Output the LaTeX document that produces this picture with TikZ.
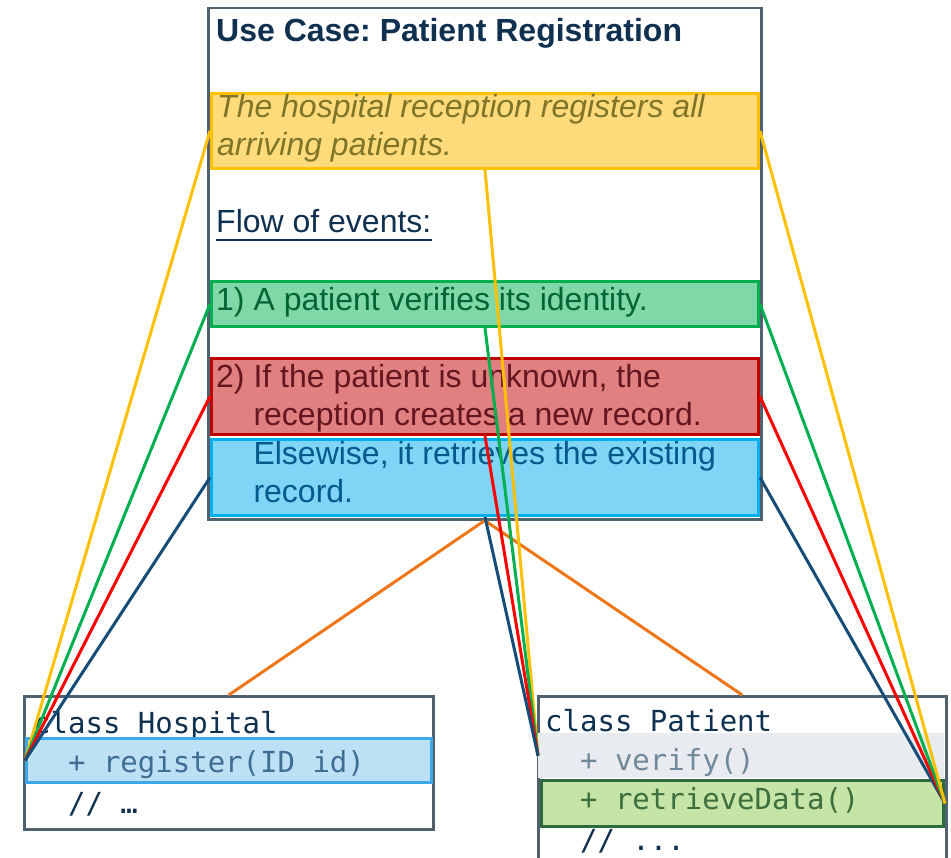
\documentclass[tikz,border=0pt]{standalone}
\usepackage{fontspec}
\setmainfont{Liberation Sans}
\setmonofont{DejaVu Sans Mono}
\frenchspacing

% palette
\definecolor{frame}{RGB}{80,98,112}
\definecolor{navy}{RGB}{16,48,80}
\definecolor{ylwfill}{RGB}{255,219,123}
\definecolor{ylwline}{RGB}{255,192,0}
\definecolor{ylwtext}{RGB}{128,116,40}
\definecolor{grnfill}{RGB}{128,216,168}
\definecolor{grnline}{RGB}{0,176,80}
\definecolor{grntext}{RGB}{0,100,52}
\definecolor{redfill}{RGB}{224,128,128}
\definecolor{redline}{RGB}{192,0,0}
\definecolor{redtext}{RGB}{100,22,32}
\definecolor{redlink}{RGB}{255,0,0}
\definecolor{blufill}{RGB}{128,212,246}
\definecolor{bluline}{RGB}{0,176,240}
\definecolor{blutext}{RGB}{0,90,140}
\definecolor{blulink}{RGB}{22,76,120}
\definecolor{orglink}{RGB}{240,118,26}
\definecolor{regfill}{RGB}{190,224,245}
\definecolor{regline}{RGB}{60,168,232}
\definecolor{regtext}{RGB}{62,110,148}
\definecolor{verfill}{RGB}{232,236,240}
\definecolor{vertext}{RGB}{112,136,155}
\definecolor{retfill}{RGB}{198,228,166}
\definecolor{retline}{RGB}{46,107,58}
\definecolor{rettext}{RGB}{60,110,62}

\begin{document}
\begin{tikzpicture}[x=1pt,y=-1pt,
  panel/.style={draw=frame, line width=2.5pt, fill=white, anchor=north west, inner sep=0},
  band/.style={line width=3pt, anchor=north west, inner sep=0, minimum width=547pt},
  row/.style={anchor=north west, inner sep=0},
  uctext/.style={inner sep=0, anchor=base west, align=left, font=\fontsize{32}{38}\selectfont},
  code/.style={inner sep=0, anchor=base west, font=\fontsize{29}{38}\selectfont\ttfamily},
  link/.style={line width=3pt}
]
\useasboundingbox (0,0) rectangle (951,858);
\clip (0,0) rectangle (951,858);

% use case card (multi-line texts are placed by the baseline of their last line)
\node[panel, minimum width=553pt, minimum height=511pt] (uc) at (207,7) {};
\node[uctext, font=\fontsize{32}{38}\selectfont\bfseries, text=navy] (title) at (216,42) {Use Case: Patient Registration};

\node[band, draw=ylwline, fill=ylwfill, minimum height=75pt] (goal) at (210,92) {};
\node[uctext, text=ylwtext, font=\fontsize{32}{38}\selectfont\itshape] (goaltxt) at (217,156)
  {The hospital reception registers all\\arriving patients.};

\node[uctext, text=navy] (flow) at (216,233) {Flow of events:};
\draw[navy, line width=2pt] ([yshift=-7pt]flow.base west) -- ([yshift=-7pt]flow.base east);

\node[band, draw=grnline, fill=grnfill, minimum height=45pt] (s1) at (210,280) {};
\node[uctext, text=grntext] (s1txt) at (216,311) {1) A patient verifies its identity.};

\node[band, draw=redline, fill=redfill, minimum height=76pt] (s2) at (210,357) {};
\node[uctext, text=redtext] (s2txt) at (216,426)
  {2) If the patient is unknown, the\\\phantom{2) }reception creates a new record.};

\node[band, draw=bluline, fill=blufill, minimum height=76pt] (s3) at (210,438) {};
\node[uctext, text=blutext] (s3txt) at (216,503)
  {\phantom{2) }Elsewise, it retrieves the existing\\\phantom{2) }record.};

% class Hospital
\node[panel, minimum width=409pt, minimum height=133pt] (hosp) at (23,695) {};
\node[code, text=navy] (hospname) at (33,733) {class Hospital};
\node[row, draw=regline, fill=regfill, line width=3pt, minimum width=405pt, minimum height=44pt] (hreg) at (25,737) {};
\node[code, text=regtext] (hregtxt) at (33,772) {~~+ register(ID id)};
\node[code, text=navy] (hmore) at (33,813) {~~// …};

% class Patient
\node[panel, minimum width=408pt, minimum height=190pt] (pat) at (537,695) {};
\node[code, text=navy] (patname) at (545,731) {class Patient};
\node[row, fill=verfill, minimum width=406pt, minimum height=45pt] (pver) at (538,733) {};
\node[code, text=vertext] (pvertxt) at (545,770) {~~+ verify()};
\node[row, draw=retline, fill=retfill, line width=3pt, minimum width=402pt, minimum height=46pt] (pret) at (540,779) {};
\node[code, text=rettext] (prettxt) at (545,809) {~~+ retrieveData()};
\node[code, text=navy] (pmore) at (545,850) {~~// ...};

% refinement links
\draw[link, orglink] (uc.south) -- (hosp.north);
\draw[link, orglink] (uc.south) -- (pat.north);

\draw[link, ylwline] (goal.west) -- (hreg.west);
\draw[link, grnline] (s1.west) -- (hreg.west);
\draw[link, redlink] (s2.west) -- (hreg.west);
\draw[link, blulink] (s3.west) -- (hreg.west);

\draw[link, blulink] (s3.east) -- (pret.east);
\draw[link, redlink] (s2.east) -- (pret.east);
\draw[link, grnline] (s1.east) -- (pret.east);
\draw[link, ylwline] (goal.east) -- (pret.east);

\draw[link, ylwline] (goal.south) -- (pver.west);
\draw[link, grnline] (s1.south) -- (pver.west);
\draw[link, redlink] (s2.south) -- (pver.west);
\draw[link, blulink] (s3.south) -- (pver.west);
\end{tikzpicture}
\end{document}
